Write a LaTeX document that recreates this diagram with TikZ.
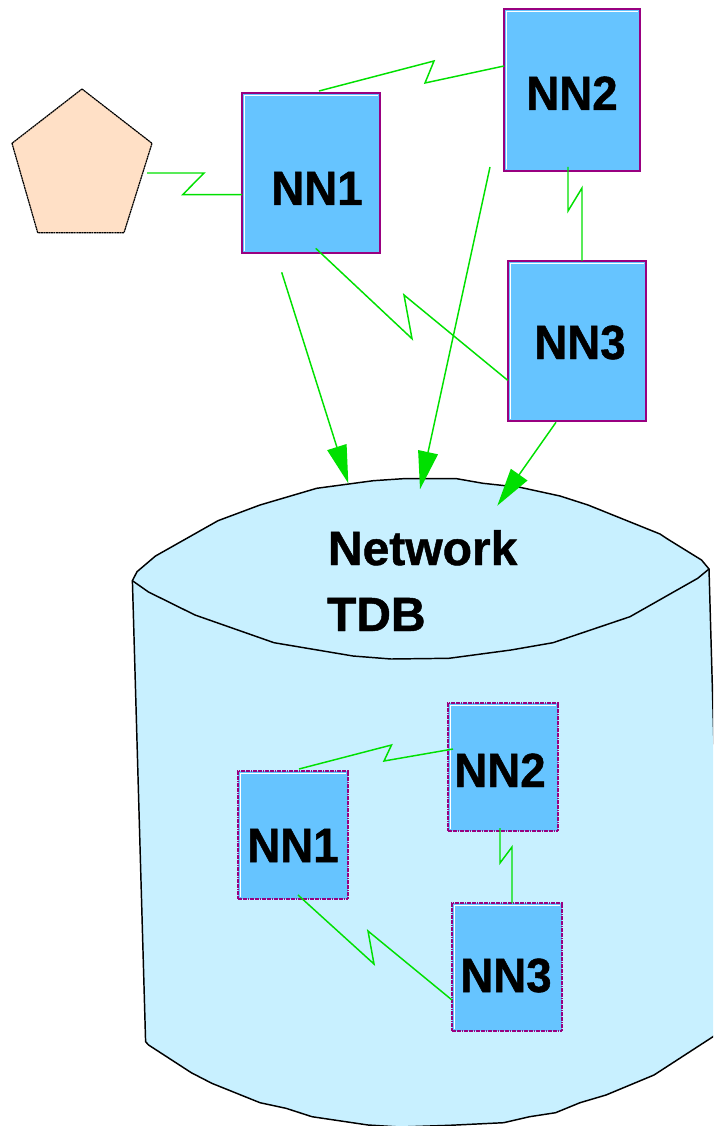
\documentclass[tikz,border=0pt]{standalone}
\usepackage{fontspec}
\setmainfont{Liberation Sans}[BoldFeatures={FakeBold=1}]
\newfontfamily\nnfont{Liberation Sans}[BoldFeatures={FakeBold=1,FakeStretch=0.95}]
\usetikzlibrary{arrows.meta}
\definecolor{nnblue}{HTML}{66C4FF}
\definecolor{nnpurple}{HTML}{990080}
\definecolor{nngreen}{HTML}{00E000}
\definecolor{cyl}{HTML}{C8F0FF}
\definecolor{peach}{HTML}{FFE0C6}
\tikzset{
  nnbox/.style={draw=nnpurple,fill=nnblue,inner sep=0pt,outer sep=0pt,line width=1.6pt,
    path picture={\draw[white,line width=0.5pt,solid]
      ([shift={(1.5pt,1.5pt)}]path picture bounding box.south west)
      -- ([shift={(1.5pt,-1.5pt)}]path picture bounding box.north west)
      -- ([shift={(-1.5pt,-1.5pt)}]path picture bounding box.north east);}},
  bigbox/.style={nnbox},
  smallbox/.style={nnbox,line width=1.4pt,dash pattern=on 1.4pt off 0.4pt},
  lbl/.style={inner sep=0pt,outer sep=0pt,font=\fontsize{36}{36}\selectfont\bfseries},
  nnlbl/.style={inner sep=0pt,outer sep=0pt,font=\fontsize{36}{36}\nnfont\bfseries},
  link/.style={draw=nngreen,line width=1.1pt,line join=miter},
  arrowlink/.style={link,-{Triangle[length=28.5pt,width=15pt]}},
  outline/.style={draw=black,line width=1.1pt,line join=round},
}
\begin{document}
\begin{tikzpicture}[x=0.75pt,y=-0.75pt]
\useasboundingbox (0,0) rectangle (713,1126);
\clip (0,0) rectangle (713,1126);
% pentagon
\coordinate (pentgate) at (147,173);
\draw[fill=peach,draw=black,line width=0.9pt,dash pattern=on 1.5pt off 0.4pt,line join=round]
  (82,89) -- (152,143.3) -- (124,232.7) -- (37.7,232.7) -- (12,143.3) -- cycle;
% cylinder body
\path[outline,fill=cyl] (132.4,580.7) -- (145.6,1041.7) -- (148.6,1045) -- (191.3,1072.7) -- (211.8,1083.3)
  -- (260,1102.7) -- (286,1108.3) -- (312,1116.7) -- (368,1125) -- (400,1127) -- (449.7,1125.3)
  -- (503.6,1122.7) -- (529.6,1116.7) -- (555.6,1112.7) -- (580,1102.7) -- (606,1095)
  -- (654,1075) -- (713,1036.7) -- (722,1028) -- (709,569) -- cycle;
% cylinder top
\path[outline,fill=cyl] (132.4,580.7) -- (137,571.7) -- (155.5,556) -- (218,520.7) -- (260,505)
  -- (316.7,488.3) -- (373.3,480.7) -- (403,478.7) -- (456.7,478.7) -- (483,483.3) -- (520,487.3)
  -- (560,496) -- (588,505) -- (660,534) -- (668,539.3) -- (701.5,560) -- (709,569)
  -- (697.7,578.3) -- (630,616.7) -- (553,642.7) -- (511,650) -- (449,658.3) -- (391,659)
  -- (353,656) -- (274,642.7) -- (195,615) -- (148.5,592) -- cycle;
\node[lbl,anchor=base west] (netlbl) at (328,565) {Network};
\node[lbl,anchor=base west] (tdblbl) at (327,631) {TDB};
% upper boxes
\node[bigbox,minimum width=103.5pt,minimum height=120pt] (nnA) at (311,173) {};
\node[bigbox,minimum width=102pt,minimum height=121.5pt] (nnB) at (572,90) {};
\node[bigbox,minimum width=103.5pt,minimum height=120pt] (nnC) at (577,341) {};
\node[nnlbl,anchor=base] (nnAl) at (317,205) {NN1};
\node[nnlbl,anchor=base] (nnBl) at (572,110) {NN2};
\node[nnlbl,anchor=base] (nnCl) at (580,359) {NN3};
% lower boxes
\node[smallbox,minimum width=82.5pt,minimum height=96pt] (nnD) at (293,835) {};
\node[smallbox,minimum width=82.5pt,minimum height=96pt] (nnE) at (503,767) {};
\node[smallbox,minimum width=82.5pt,minimum height=96pt] (nnF) at (507,967) {};
\node[nnlbl,anchor=base] (nnDl) at (293,862) {NN1};
\node[nnlbl,anchor=base] (nnEl) at (500,787) {NN2};
\node[nnlbl,anchor=base] (nnFl) at (506,992) {NN3};
% connector ends and bends
\coordinate (aW) at (242,194.7);
\coordinate (aN) at (319,91);
\coordinate (aS) at (315.7,248.3);
\coordinate (aOut) at (281.7,272.3);
\coordinate (bW) at (504,66);
\coordinate (bS) at (568,167);
\coordinate (bOut) at (490,167);
\coordinate (cN) at (582,261);
\coordinate (cW) at (507.7,380.3);
\coordinate (cS) at (556,422.3);
\coordinate (tipA) at (348.3,483.3);
\coordinate (tipB) at (420,489.3);
\coordinate (tipC) at (497.3,505.7);
\coordinate (dN) at (299,769);
\coordinate (dS) at (298,895);
\coordinate (eW) at (453,749);
\coordinate (eS) at (500,828);
\coordinate (fN) at (512,903);
\coordinate (fW) at (452,1000);
% upper connectors
\draw[link] (pentgate) -- (204,173) -- (182.7,194.7) -- (aW);
\draw[link] (aN) -- (434,61) -- (425,83) -- (bW);
\draw[link] (bS) -- (568,211) -- (582,188) -- (cN);
\draw[link] (aS) -- (412,338.7) -- (404,295) -- (cW);
\draw[arrowlink] (aOut) -- (tipA);
\draw[arrowlink] (bOut) -- (tipB);
\draw[arrowlink] (cS) -- (tipC);
% lower connectors
\draw[link] (dN) -- (391.5,745) -- (384,761) -- (eW);
\draw[link] (eS) -- (500,863) -- (512,847) -- (fN);
\draw[link] (dS) -- (374,964) -- (368,931) -- (fW);
\end{tikzpicture}
\end{document}
